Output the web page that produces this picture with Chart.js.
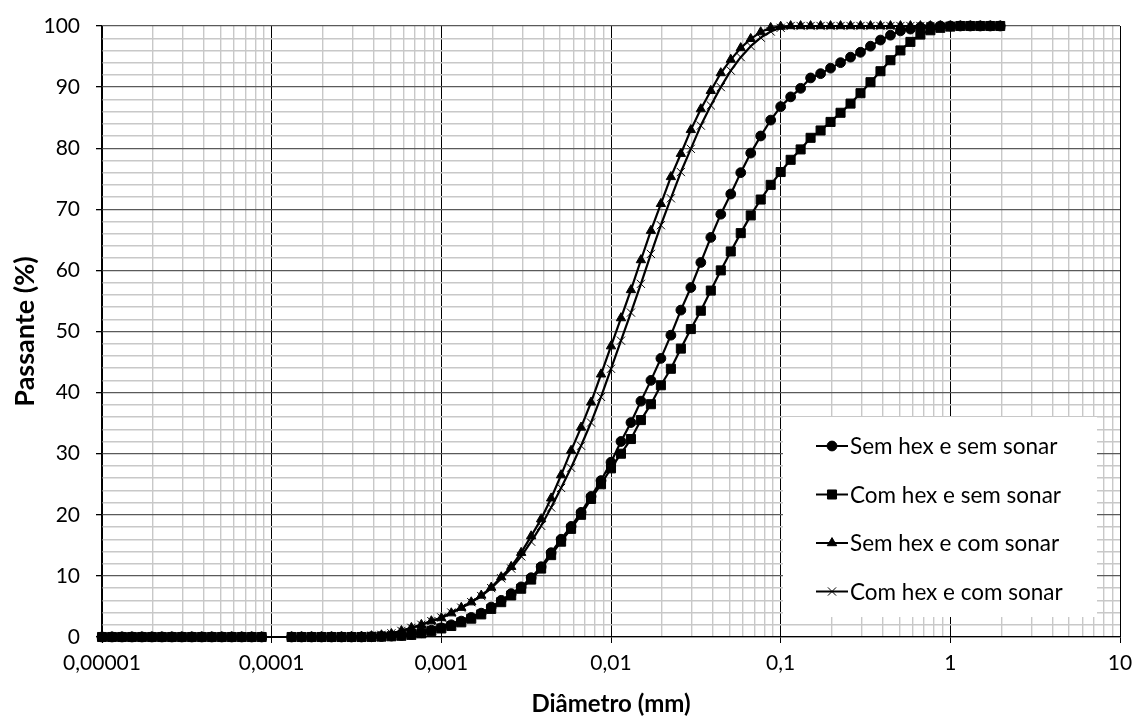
<!DOCTYPE html>
<html><head><meta charset="utf-8">
<script src="https://cdn.jsdelivr.net/npm/chart.js@4.4.1/dist/chart.umd.min.js"></script>
<style>html,body{margin:0;padding:0;background:#fff}#wrap{width:1133px;height:719px;position:relative}</style>
</head><body><div id="wrap"><canvas id="c" width="1133" height="719"></canvas></div>
<script>
// Diâmetro (mm)
const diameters = [
 1e-5,1.145e-5,1.311e-5,1.501e-5,1.719e-5,1.968e-5,2.254e-5,2.581e-5,2.955e-5,3.384e-5,3.875e-5,4.437e-5,5.080e-5,5.817e-5,6.661e-5,7.627e-5,8.733e-5,
 1.311e-4,1.501e-4,1.719e-4,1.968e-4,2.254e-4,2.581e-4,2.955e-4,3.384e-4,3.875e-4,4.437e-4,5.080e-4,5.817e-4,6.661e-4,7.627e-4,8.733e-4,
 1e-3,1.145e-3,1.311e-3,1.501e-3,1.719e-3,1.968e-3,2.254e-3,2.581e-3,2.955e-3,3.384e-3,3.875e-3,4.437e-3,5.080e-3,5.817e-3,6.661e-3,7.627e-3,8.733e-3,
 1e-2,1.145e-2,1.311e-2,1.501e-2,1.719e-2,1.968e-2,2.254e-2,2.581e-2,2.955e-2,3.384e-2,3.875e-2,4.437e-2,5.080e-2,5.817e-2,6.661e-2,7.627e-2,8.733e-2,
 0.1,0.1145,0.1311,0.1501,0.1719,0.1968,0.2254,0.2581,0.2955,0.3384,0.3875,0.4437,0.5080,0.5817,0.6661,0.7627,0.8733,
 1,1.145,1.311,1.501,1.719,1.968
];
// Passante (%)
const semHexSemSonar = [
 0,0,0,0,0,0,0,0,0,0,0,0,0,0,0,0,0,
 0,0,0,0,0,0,0,0,0.03,0.08,0.15,0.25,0.4,0.7,1.1,
 1.5,2.0,2.6,3.2,3.9,4.9,6.0,7.1,8.2,9.7,11.5,13.8,16.0,18.1,20.4,23.0,25.6,
 28.6,32.0,35.1,38.6,42.0,45.6,49.4,53.5,57.2,61.3,65.4,69.2,72.5,76.0,79.2,82.0,84.6,
 86.8,88.4,89.8,91.5,92.2,93.1,94.0,94.9,95.7,96.7,97.7,98.5,99.2,99.5,99.8,99.9,100,
 100,100,100,100,100,100
];
const comHexSemSonar = [
 0,0,0,0,0,0,0,0,0,0,0,0,0,0,0,0,0,
 0,0,0,0,0,0,0,0,0.02,0.06,0.12,0.2,0.35,0.6,1.0,
 1.4,1.8,2.4,3.0,3.7,4.6,5.7,6.8,7.9,9.4,11.2,13.4,15.6,17.7,20.0,22.6,25.0,
 27.6,30.0,32.4,35.5,38.1,41.2,43.9,47.2,50.4,53.4,56.7,60.0,63.1,66.1,69.0,71.6,74.0,
 76.1,78.1,79.8,81.7,82.9,84.3,85.8,87.3,89.0,90.8,92.6,94.4,96.0,97.4,98.6,99.3,99.7,
 99.9,100,100,100,100,100
];
const semHexComSonar = [
 0,0,0,0,0,0,0,0,0,0,0,0,0,0,0,0,0,
 0,0,0,0,0,0,0.03,0.08,0.15,0.3,0.5,1.0,1.5,2.0,2.6,
 3.1,3.9,4.8,5.7,6.8,8.1,9.8,11.5,13.8,16.5,19.3,22.7,26.5,30.5,34.3,38.4,43.0,
 47.6,52.2,56.8,61.7,66.5,70.9,75.3,79.1,83.0,86.4,89.4,92.3,94.5,96.4,97.9,99.0,99.7,
 99.9,100,100,100,100,100,100,100,100,100,100,100,100,100,100,100,100,
 100,100,100,100,100,100
];
const comHexComSonar = [
 0,0,0,0,0,0,0,0,0,0,0,0,0,0,0,0,0,
 0,0,0,0,0,0,0.03,0.1,0.2,0.35,0.6,1.0,1.5,2.0,2.6,
 3.2,4.0,4.8,5.7,6.7,8.0,9.6,11.2,13.2,15.6,18.2,21.2,24.4,27.7,31.3,35.1,39.3,
 43.9,48.5,53.1,57.8,62.7,67.4,71.8,76.1,79.9,83.7,87.0,90.0,92.7,94.9,96.7,98.1,99.1,
 99.7,100,100,100,100,100,100,100,100,100,100,100,100,100,100,100,100,
 100,100,100,100,100,100
];
const seriesNames = ['Sem hex e sem sonar','Com hex e sem sonar','Sem hex e com sonar','Com hex e com sonar'];
const xTickValues = [1e-5,1e-4,1e-3,1e-2,1e-1,1,10];
const xTickLabels = ['0,00001','0,0001','0,001','0,01','0,1','1','10'];
const xMinorMultipliers = [2,3,4,5,6,7,8,9];
const yTickValues = [0,10,20,30,40,50,60,70,80,90,100];
const yMinorOffsets = [2,4,6,8];

const FONT = 'Lato, Carlito, Calibri, sans-serif';
const styles = [
  {pointStyle:'circle', radius:4.9},
  {pointStyle:'rect', radius:6.4},
  {pointStyle:'triangle', radius:5.4},
  {pointStyle:'crossRot', radius:5.8}
];
const seriesData = [semHexSemSonar, comHexSemSonar, semHexComSonar, comHexComSonar];

function isMajorX(v){ return xTickValues.some(t => Math.abs(Math.log10(v) - Math.log10(t)) < 1e-6); }
function isMajorY(v){ return yTickValues.indexOf(v) >= 0; }

const legendPlugin = {
  id: 'boxLegend',
  beforeDatasetsDraw(chart) {
    const ctx = chart.ctx, ca = chart.chartArea;
    const bx = ca.right - 337, by = ca.top + 391, bw = 314, bh = 200;
    ctx.save();
    ctx.fillStyle = '#ffffff';
    ctx.fillRect(bx, by, bw, bh);
    ctx.font = '22.5px ' + FONT;
    ctx.textBaseline = 'middle';
    ctx.textAlign = 'left';
    seriesNames.forEach((name, i) => {
      const y = by + 29 + i * 48.5;
      const x0 = bx + 33, x1 = bx + 65, xm = bx + 49;
      ctx.strokeStyle = '#000'; ctx.fillStyle = '#000'; ctx.lineWidth = 2;
      ctx.beginPath(); ctx.moveTo(x0, y); ctx.lineTo(x1, y); ctx.stroke();
      ctx.lineWidth = 1;
      Chart.helpers.drawPoint(ctx, {pointStyle: styles[i].pointStyle, radius: styles[i].radius, rotation: 0, borderWidth: 1}, xm, y);
      ctx.fillStyle = '#000';
      ctx.fillText(name, bx + 67, y + 1);
    });
    ctx.restore();
  }
};

const datasets = seriesNames.map((name, i) => ({
  label: name,
  data: diameters.map((d, j) => ({x: d, y: seriesData[i][j]})),
  borderColor: '#000', backgroundColor: '#000', borderWidth: 2.2,
  pointStyle: styles[i].pointStyle, pointRadius: styles[i].radius,
  pointBorderColor: '#000', pointBackgroundColor: '#000', pointBorderWidth: 1,
  tension: 0, clip: false, order: i
}));

new Chart(document.getElementById('c'), {
  type: 'line',
  data: { datasets },
  plugins: [legendPlugin],
  options: {
    responsive: false, animation: false, devicePixelRatio: 1,
    layout: { padding: { left: 0, right: 13, top: 26, bottom: 0 } },
    plugins: { legend: { display: false }, tooltip: { enabled: false } },
    elements: { line: { borderJoinStyle: 'round' } },
    scales: {
      x: {
        type: 'logarithmic', min: 1e-5, max: 10,
        afterBuildTicks: s => {
          const t = [];
          xTickValues.forEach((d, i) => {
            t.push({value: d});
            if (i < xTickValues.length - 1) xMinorMultipliers.forEach(m => t.push({value: m * d}));
          });
          s.ticks = t;
        },
        afterFit: s => { s.height = 82; s.paddingLeft = 0; s.paddingRight = 0; },
        ticks: {
          autoSkip: false, maxRotation: 0, minRotation: 0, padding: 8, color: '#000',
          font: { family: FONT, size: 21 },
          callback: v => { const i = xTickValues.findIndex(t => Math.abs(Math.log10(v) - Math.log10(t)) < 1e-6); return i >= 0 ? xTickLabels[i] : ''; }
        },
        grid: {
          color: c => (c.tick && isMajorX(c.tick.value)) ? '#000' : '#c8c8c8',
          lineWidth: c => (c.tick && isMajorX(c.tick.value)) ? 1 : 1.4,
          tickColor: c => (c.tick && isMajorX(c.tick.value)) ? '#000' : 'rgba(0,0,0,0)',
          tickLength: 6, drawTicks: true
        },
        border: { color: '#000', width: 1.3 },
        title: { display: true, text: 'Diâmetro (mm)', color: '#000', font: { family: FONT, size: 24, weight: 'bold' }, padding: { top: 2.6, bottom: 0 } }
      },
      y: {
        type: 'linear', min: 0, max: 100,
        afterBuildTicks: s => {
          const t = [];
          yTickValues.forEach((v, i) => {
            t.push({value: v});
            if (i < yTickValues.length - 1) yMinorOffsets.forEach(o => t.push({value: v + o}));
          });
          s.ticks = t;
        },
        afterFit: s => { s.width = 102; s.paddingTop = 0; s.paddingBottom = 0; },
        ticks: {
          autoSkip: false, padding: 16, color: '#000',
          font: { family: FONT, size: 21 },
          callback: v => isMajorY(v) ? String(v) : ''
        },
        grid: {
          color: c => (c.tick && isMajorY(c.tick.value)) ? '#5a5a5a' : '#c8c8c8',
          lineWidth: c => (c.tick && isMajorY(c.tick.value)) ? 1.3 : 1.4,
          tickColor: c => (c.tick && isMajorY(c.tick.value)) ? '#000' : 'rgba(0,0,0,0)',
          tickLength: 6, drawTicks: true
        },
        border: { color: '#000', width: 1.3 },
        title: { display: true, text: 'Passante (%)', color: '#000', font: { family: FONT, size: 27, weight: 'bold' }, padding: { top: 9, bottom: 0 } }
      }
    }
  }
});
</script></body></html>
